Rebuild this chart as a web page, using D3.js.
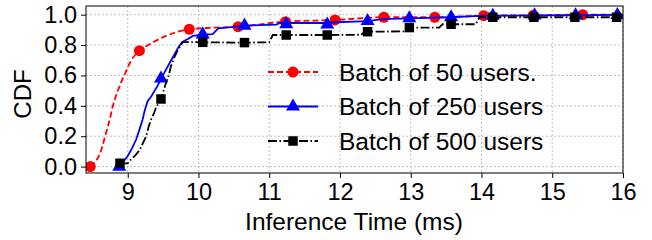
<!DOCTYPE html>
<html>
<head>
<meta charset="utf-8">
<script src="https://cdn.jsdelivr.net/npm/d3@7"></script>
<style>
  body { margin: 0; background: #fff; }
  text { font-family: "Liberation Sans", Arial, sans-serif; fill: #000; }
</style>
</head>
<body>
<div id="chart"></div>
<script>
// data (x = inference time in ms, y = CDF)
var labels = ["Batch of 50 users.", "Batch of 250 users", "Batch of 500 users"];
var xTicks = [9, 10, 11, 12, 13, 14, 15, 16];
var yTicks = [0, 0.2, 0.4, 0.6, 0.8, 1.0];

var line50 = [[8.47,0],[8.58,0.06],[8.64,0.13],[8.68,0.2],[8.74,0.3],[8.79,0.4],[8.86,0.5],
  [8.95,0.6],[9.05,0.7],[9.165,0.763],[9.33,0.81],[9.54,0.86],[9.87,0.904],[10.2,0.914],
  [10.56,0.921],[11.23,0.954],[11.93,0.965],[12.62,0.983],[13.34,0.983],[14.03,0.993],
  [14.73,0.996],[15.43,1.0],[16,1.0]];
var marks50 = [[8.47,0],[9.165,0.763],[9.87,0.904],[10.56,0.921],[11.23,0.954],[11.93,0.965],
  [12.62,0.983],[13.34,0.983],[14.03,0.993],[14.73,0.996],[15.43,1.0]];

var line250 = [[8.84,0],[8.88,0.01],[8.95,0.04],[9.0,0.07],[9.06,0.12],[9.12,0.18],[9.17,0.25],
  [9.21,0.31],[9.24,0.37],[9.28,0.43],[9.33,0.46],[9.38,0.5],[9.42,0.53],[9.47,0.58],[9.52,0.62],
  [9.59,0.68],[9.65,0.73],[9.71,0.78],[9.77,0.82],[9.85,0.84],[9.92,0.86],[10.06,0.868],
  [10.2,0.872],[10.28,0.91],[10.5,0.92],[10.65,0.928],[11.1,0.935],[11.15,0.945],[11.82,0.945],
  [11.95,0.95],[12.39,0.958],[12.6,0.97],[12.98,0.976],[13.57,0.983],[13.9,0.99],[14.16,0.993],
  [14.75,0.995],[15.33,0.996],[15.92,0.998],[16,0.998]];
var marks250 = [[8.88,0.0],[9.47,0.58],[10.06,0.87],[10.65,0.928],[11.24,0.937],[11.82,0.935],
  [12.39,0.958],[12.98,0.976],[13.57,0.983],[14.16,0.993],[14.75,0.995],[15.33,0.996],[15.92,0.998]];

var line500 = [[8.89,0.022],[9.0,0.022],[9.02,0.035],[9.1,0.07],[9.17,0.11],[9.22,0.16],[9.26,0.2],
  [9.3,0.27],[9.33,0.31],[9.37,0.35],[9.4,0.39],[9.47,0.445],[9.54,0.55],[9.58,0.6],[9.61,0.66],
  [9.66,0.72],[9.71,0.77],[9.78,0.82],[10.06,0.818],[10.65,0.816],[11.0,0.818],[11.05,0.866],
  [11.82,0.866],[12.3,0.868],[12.35,0.888],[12.9,0.89],[12.95,0.915],[13.4,0.915],[13.45,0.937],
  [13.92,0.937],[13.97,0.983],[16,0.983]];
var marks500 = [[8.89,0.022],[9.47,0.445],[10.06,0.818],[10.65,0.816],[11.24,0.866],[11.82,0.866],
  [12.39,0.888],[12.98,0.915],[13.57,0.937],[14.16,0.983],[14.74,0.983],[15.32,0.983],[15.91,0.983]];

var margin = {top: 6, right: 29, bottom: 67, left: 86},
    width = 652 - margin.left - margin.right,
    height = 240 - margin.top - margin.bottom;

var svg = d3.select("#chart")
  .append("svg")
  .attr("width", 652)
  .attr("height", 240)
  .append("g")
  .attr("transform", "translate(" + margin.left + "," + margin.top + ")");

var x = d3.scaleLinear().domain([8.41, 16]).range([0, width]);
var y = d3.scaleLinear().domain([-0.042, 1.057]).range([height, 0]);

// grid
svg.append("g").selectAll("line").data(xTicks).enter().append("line")
  .attr("x1", function(d) { return x(d); }).attr("x2", function(d) { return x(d); })
  .attr("y1", 0).attr("y2", height)
  .attr("stroke", "#b0b0b0").attr("stroke-width", 0.8).attr("stroke-dasharray", "2,2");
svg.append("g").selectAll("line").data(yTicks).enter().append("line")
  .attr("y1", function(d) { return y(d); }).attr("y2", function(d) { return y(d); })
  .attr("x1", 0).attr("x2", width)
  .attr("stroke", "#b0b0b0").attr("stroke-width", 0.8).attr("stroke-dasharray", "2,2");

// axes
var xAxis = svg.append("g")
  .attr("transform", "translate(0," + height + ")")
  .call(d3.axisBottom(x).tickValues(xTicks).tickFormat(d3.format("d")).tickSize(5).tickPadding(5));
var yAxis = svg.append("g")
  .call(d3.axisLeft(y).tickValues(yTicks).tickFormat(d3.format(".1f")).tickSize(5).tickPadding(4));
[xAxis, yAxis].forEach(function(a) {
  a.select(".domain").remove();
  a.selectAll("line").attr("stroke", "#000");
  a.selectAll("text").style("font-size", "23.5px").attr("font-family", null);
});

var series = [
  {line: line50, marks: marks50, color: "#ff0000", dash: "6,3", shape: d3.symbolCircle, size: 95, w: 1.8},
  {line: line250, marks: marks250, color: "#0000ff", dash: null, shape: d3.symbolTriangle, size: 85, w: 1.8},
  {line: line500, marks: marks500, color: "#000000", dash: "9,2.5,1.5,2.5", shape: d3.symbolSquare, size: 90, w: 1.8}
];

var clip = svg.append("clipPath").attr("id", "clip")
  .append("rect").attr("width", width).attr("height", height);

var plot = svg.append("g").attr("clip-path", "url(#clip)");

series.forEach(function(s) {
  plot.append("path")
    .datum(s.line)
    .attr("fill", "none")
    .attr("stroke", s.color)
    .attr("stroke-width", s.w)
    .attr("stroke-dasharray", s.dash)
    .attr("d", d3.line()
      .curve(s.shape === d3.symbolCircle ? d3.curveMonotoneX : d3.curveLinear)
      .x(function(d) { return x(d[0]); })
      .y(function(d) { return y(d[1]); }));
  plot.append("g").selectAll("path").data(s.marks).enter().append("path")
    .attr("transform", function(d) { return "translate(" + x(d[0]) + "," + y(d[1]) + ")"; })
    .attr("d", d3.symbol().type(s.shape).size(s.size))
    .attr("fill", s.color);
});

// frame
svg.append("rect").attr("width", width).attr("height", height)
  .attr("fill", "none").attr("stroke", "#000").attr("stroke-width", 1);

// legend (no frame)
var legend = svg.append("g").attr("transform", "translate(" + (268 - margin.left) + "," + (72 - margin.top) + ")");
series.forEach(function(s, i) {
  var g = legend.append("g").attr("transform", "translate(0," + (i * 34.5) + ")");
  g.append("line").attr("x1", 0).attr("x2", 50).attr("y1", 0).attr("y2", 0)
    .attr("stroke", s.color).attr("stroke-width", s.w).attr("stroke-dasharray", s.dash);
  g.append("path").attr("transform", "translate(25,0)")
    .attr("d", d3.symbol().type(s.shape).size(s.size)).attr("fill", s.color);
  g.append("text").attr("x", 71).attr("y", 0).attr("dy", "0.36em")
    .style("font-size", "24.5px").text(labels[i]);
});

// axis labels
svg.append("text")
  .attr("x", 354 - margin.left)
  .attr("y", height + 57)
  .style("text-anchor", "middle")
  .style("font-size", "24.5px")
  .text("Inference Time (ms)");

svg.append("text")
  .attr("transform", "rotate(-90)")
  .attr("x", 0 - (94 - margin.top))
  .attr("y", 31 - margin.left)
  .style("text-anchor", "middle")
  .style("font-size", "24px")
  .text("CDF");
</script>
</body>
</html>
